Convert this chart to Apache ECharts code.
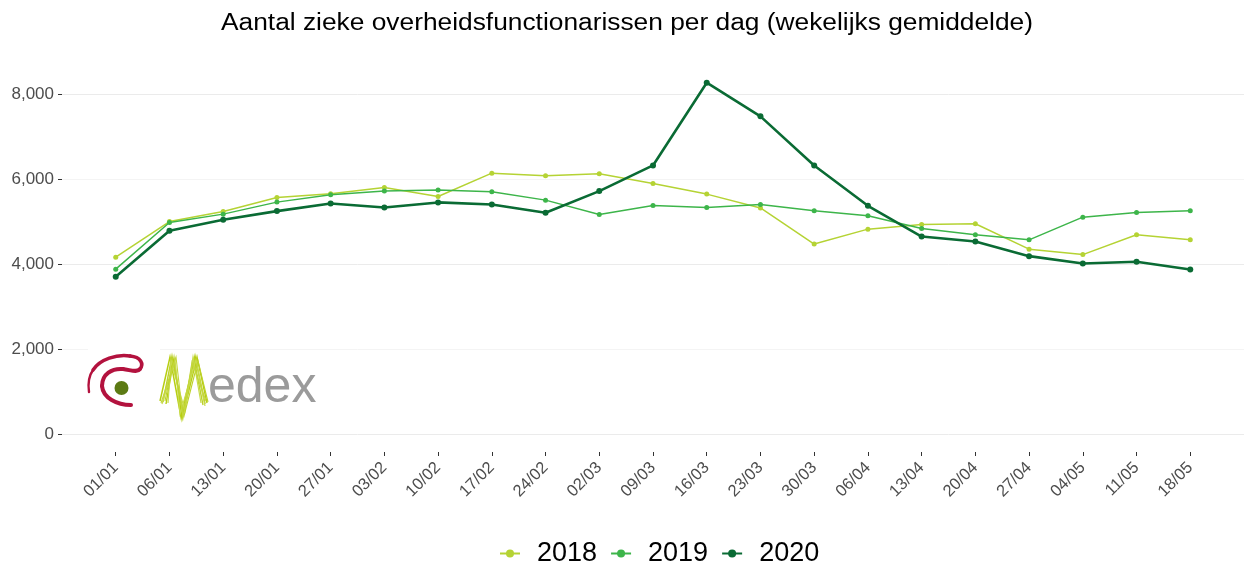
<!DOCTYPE html>
<html>
<head>
<meta charset="utf-8">
<script src="https://cdn.jsdelivr.net/npm/echarts@6/dist/echarts.min.js"></script>
<style>
  html, body { margin: 0; padding: 0; background: #ffffff; }
  #chart { width: 1244px; height: 565px; }
</style>
</head>
<body>
<div id="chart"></div>
<script>
// Week start dates (dd/mm)
const weeks = ['01/01','06/01','13/01','20/01','27/01','03/02','10/02','17/02','24/02','02/03',
  '09/03','16/03','23/03','30/03','06/04','13/04','20/04','27/04','04/05','11/05','18/05'];

// Weekly average of sick civil servants per day
const sick2018 = [4170, 5010, 5246, 5577, 5664, 5814, 5601, 6150, 6088, 6136,
  5907, 5656, 5330, 4478, 4830, 4940, 4956, 4358, 4230, 4698, 4578];
const sick2019 = [3887, 4987, 5184, 5467, 5640, 5727, 5750, 5711, 5514, 5176,
  5388, 5341, 5413, 5262, 5144, 4845, 4696, 4578, 5113, 5223, 5262];
const sick2020 = [3705, 4790, 5050, 5255, 5436, 5341, 5460, 5410, 5215, 5727,
  6332, 8283, 7489, 6332, 5380, 4656, 4539, 4193, 4020, 4060, 3878];

const yTicks = [0, 2000, 4000, 6000, 8000];

const titleText = 'Aantal zieke overheidsfunctionarissen per dag (wekelijks gemiddelde)';

const seriesDefs = [
  { name: '2018', values: sick2018, color: '#b5d334', width: 1.5, size: 5 },
  { name: '2019', values: sick2019, color: '#3db54a', width: 1.5, size: 5 },
  { name: '2020', values: sick2020, color: '#0a6b34', width: 2.6, size: 6 }
];

const idx = weeks.map((_, i) => i);
const fontFam = '"Liberation Sans", Arial, sans-serif';

// logo pieces
const spiralRed = '#b3123e';
function bez(x1, y1, cpx1, cpy1, cpx2, cpy2, x2, y2, w) {
  return { type: 'bezierCurve', z: 11,
    shape: { x1, y1, cpx1, cpy1, cpx2, cpy2, x2, y2 },
    style: { stroke: spiralRed, lineWidth: w, fill: null, lineCap: 'round' } };
}
function zig(points, color, w) {
  return { type: 'polyline', z: 11, shape: { points },
    style: { stroke: color, lineWidth: w, fill: null, lineJoin: 'miter' } };
}

const chart = echarts.init(document.getElementById('chart'), null, { renderer: 'canvas' });

chart.setOption({
  backgroundColor: '#ffffff',
  animation: false,
  textStyle: { fontFamily: fontFam },
  legend: {
    top: 535,
    left: 494,
    itemWidth: 20,
    itemHeight: 10,
    itemGap: 13,
    textStyle: { fontFamily: fontFam, fontSize: 27, color: '#000000', padding: [0, 0, 0, 12] },
    data: seriesDefs.map(s => s.name)
  },
  grid: { left: 62, right: 0, top: 65, bottom: 131, containLabel: false },
  xAxis: {
    type: 'value',
    min: -1,
    max: weeks.length,
    offset: 18,
    axisLine: { show: false, onZero: false },
    splitLine: { show: false },
    axisTick: {
      show: true, length: 4, inside: false,
      customValues: idx,
      lineStyle: { color: '#333333', width: 1 }
    },
    axisLabel: {
      customValues: idx,
      rotate: 45,
      margin: 13,
      fontFamily: fontFam,
      fontSize: 16.5,
      color: '#4d4d4d',
      formatter: v => weeks[Math.round(v)] || ''
    }
  },
  yAxis: {
    type: 'value',
    min: 0,
    max: 8700,
    interval: 1000,
    axisLine: { show: false, onZero: false },
    axisTick: {
      show: true, length: 4,
      customValues: yTicks,
      lineStyle: { color: '#333333', width: 1 }
    },
    axisLabel: {
      customValues: yTicks,
      margin: 8,
      fontFamily: fontFam,
      fontSize: 17,
      color: '#4d4d4d',
      formatter: v => v.toLocaleString('en-US')
    },
    splitLine: {
      show: true,
      lineStyle: {
        width: 1,
        color: ['#ebebeb', '#f4f4f4', '#ebebeb', '#f4f4f4', '#ebebeb',
                '#f4f4f4', '#ebebeb', '#f4f4f4', '#ebebeb', 'rgba(0,0,0,0)']
      }
    }
  },
  series: seriesDefs.map(s => ({
    name: s.name,
    type: 'line',
    data: s.values.map((v, i) => [i, v]),
    symbol: 'circle',
    symbolSize: s.size,
    showSymbol: true,
    itemStyle: { color: s.color },
    lineStyle: { color: s.color, width: s.width },
    z: 3
  })),
  graphic: [
    // chart title, slightly widened
    { type: 'text', z: 20, x: 627, y: 24, scaleX: 1.12,
      style: { text: titleText, fill: '#000000', fontFamily: fontFam, fontSize: 23.5,
               align: 'center', verticalAlign: 'middle' } },
    // white backdrop of the Medex logo
    { type: 'rect', shape: { x: 88, y: 351, width: 234, height: 76 },
      style: { fill: '#ffffff' }, z: 10 },
    { type: 'rect', shape: { x: 88, y: 344, width: 72, height: 8 },
      style: { fill: '#ffffff' }, z: 10 },
    // red spiral
    bez(131, 405, 117, 405, 103, 398, 102, 386, 4),
    bez(102, 386, 102, 374, 112, 368, 123, 369, 4),
    bez(123, 369, 131, 370, 137, 373, 140, 369, 4),
    bez(140, 369, 144, 364, 141, 357, 130, 356, 3.6),
    bez(130, 356, 117, 354, 100, 359, 93, 370, 3.4),
    bez(93, 370, 88, 377, 88, 385, 89, 392, 2.4),
    // olive dot
    { type: 'circle', z: 11, shape: { cx: 121.5, cy: 388, r: 7 },
      style: { fill: '#5c7a14' } },
    // zigzag "M"
    zig([[160, 401], [170, 357], [181, 417], [195, 356], [205, 404]], '#b7ce12', 1.5),
    zig([[163, 402], [172, 356], [183, 414], [194, 359], [203, 405]], '#bdd22a', 1.4),
    zig([[166, 404], [174, 358], [182, 419], [197, 357], [207, 403]], '#b7ce12', 1.4),
    zig([[168, 403], [171, 361], [185, 411], [193, 357], [201, 403]], '#c8db4c', 1.2),
    zig([[162, 404], [175, 360], [180, 414], [196, 360], [205, 406]], '#c8db4c', 1.2),
    zig([[165, 401], [173, 362], [184, 416], [198, 361], [208, 402]], '#bdd22a', 1.1),
    zig([[161, 403], [176, 357], [183, 418], [192, 362], [206, 401]], '#c3d63c', 1.1),
    // "edex" lettering
    { type: 'text', z: 11, x: 208, y: 388,
      style: { text: 'edex', fill: '#9b9b9b', fontFamily: fontFam, fontSize: 50,
               fontWeight: 'normal', verticalAlign: 'middle' } }
  ]
});
</script>
</body>
</html>
